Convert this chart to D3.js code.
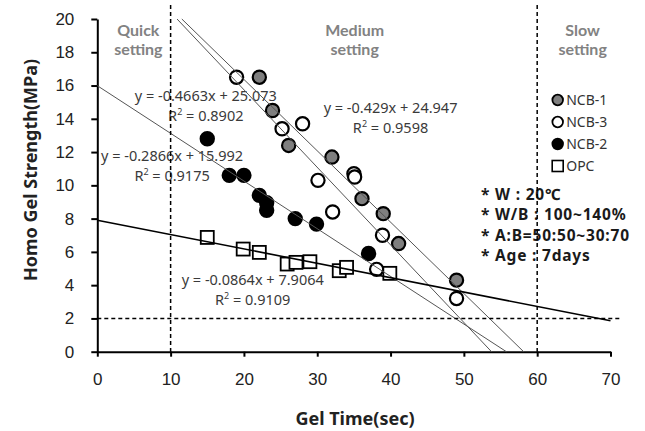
<!DOCTYPE html>
<html>
<head>
<meta charset="utf-8">
<script src="https://cdn.jsdelivr.net/npm/d3@7"></script>
<style>
  body { margin: 0; background: #fff; }
  svg { font-family: "Noto Sans", "DejaVu Sans", sans-serif; }
  .tick text { font-size: 17px; fill: #222; }
  .axis path, .axis line { stroke: #000; stroke-width: 2; }
  .eq { font-size: 14.5px; fill: #3a3a3a; }
  .zone { font-family: Lato, "Noto Sans", sans-serif; font-size: 16px; font-weight: bold; fill: #828282; }
  .note { font-size: 15.5px; font-weight: bold; fill: #1a1a1a; letter-spacing: 0.8px; }
  .legend text { font-size: 14px; fill: #333; }
  .axis-title { font-size: 18px; font-weight: bold; fill: #222; }
</style>
</head>
<body>
<div id="chart"></div>
<script>
// gel time (sec) / homo gel strength (MPa)
const ncb1Time = [22.1, 23.9, 26.1, 32.0, 36.1, 39.0, 41.1, 49.0];
const ncb1Strength = [16.5, 14.5, 12.4, 11.7, 9.2, 8.3, 6.5, 4.3];

const ncb3Time = [19.0, 25.2, 28.0, 30.1, 32.1, 35.0, 35.1, 38.9, 38.1, 49.0];
const ncb3Strength = [16.5, 13.4, 13.7, 10.3, 8.4, 10.7, 10.5, 7.0, 4.95, 3.2];

const ncb2Time = [15.0, 18.0, 20.0, 22.1, 23.1, 23.1, 27.0, 29.9, 37.0];
const ncb2Strength = [12.8, 10.6, 10.6, 9.4, 8.95, 8.5, 8.0, 7.67, 5.9];

const opcTime = [15.0, 19.9, 22.1, 25.9, 27.1, 29.0, 33.0, 34.0, 39.9];
const opcStrength = [6.87, 6.17, 5.97, 5.27, 5.37, 5.41, 4.87, 5.07, 4.71];

// trendlines: NCB-1, NCB-3, NCB-2, OPC
const seriesNames = ["NCB-1", "NCB-3", "NCB-2", "OPC"];
const slopes = [-0.429, -0.4663, -0.2866, -0.0864];
const intercepts = [24.947, 25.073, 15.992, 7.9064];
const slopeLabels = ["-0.429", "-0.4663", "-0.2866", "-0.0864"];
const interceptLabels = ["24.947", "25.073", "15.992", "7.9064"];
const r2Labels = ["0.9598", "0.8902", "0.9175", "0.9109"];

const timeTicks = [0, 10, 20, 30, 40, 50, 60, 70];
const strengthTicks = [0, 2, 4, 6, 8, 10, 12, 14, 16, 18, 20];
const zoneBounds = [10, 60];
const strengthLimit = 2;
const zoneLabels = [["Quick", "setting"], ["Medium", "setting"], ["Slow", "setting"]];
const zoneCenters = [5.6, 35.1, 66.2];
const notes = ["* W : 20\u2103", "* W/B : 100~140%", "* A:B=50:50~30:70", "* Age : 7days"];

const width = 645;
const height = 431;

const svg = d3
  .select("#chart")
  .append("svg")
  .attr("width", width)
  .attr("height", height);

const xScale = d3.scaleLinear().domain([0, 70]).range([97.3, 610.5]);
const yScale = d3.scaleLinear().domain([0, 20]).range([351.7, 19]);

const fills = { "NCB-1": "#7f7f7f", "NCB-3": "#fff", "NCB-2": "#000", OPC: "#fff" };

// axes
svg
  .append("g")
  .attr("class", "axis")
  .attr("transform", `translate(0, ${yScale(0)})`)
  .call(d3.axisBottom(xScale).tickValues(timeTicks).tickSize(5).tickSizeOuter(0).tickPadding(13))
  .call((g) => g.selectAll(".tick text").attr("dy", "0.9em"));

svg
  .append("g")
  .attr("class", "axis")
  .attr("transform", `translate(${xScale(0)}, 0)`)
  .call(d3.axisLeft(yScale).tickValues(strengthTicks).tickSize(6).tickSizeOuter(0).tickPadding(17));

svg.selectAll(".axis .domain").attr("stroke-width", 2);

svg
  .append("text")
  .attr("class", "axis-title")
  .attr("x", 355)
  .attr("y", 425)
  .attr("text-anchor", "middle")
  .text("Gel Time(sec)");

svg
  .append("text")
  .attr("class", "axis-title")
  .attr("transform", `translate(37, 170) rotate(-90)`)
  .attr("text-anchor", "middle")
  .text("Homo Gel Strength(MPa)");

// zone labels
zoneLabels.forEach((lines, i) => {
  lines.forEach((t, j) => {
    svg
      .append("text")
      .attr("class", "zone")
      .attr("x", xScale(zoneCenters[i]))
      .attr("y", 36 + j * 19.3)
      .attr("text-anchor", "middle")
      .text(t);
  });
});

// equation labels
const eqPos = [
  [40, 14.35],
  [14.8, 15.1],
  [10.2, 11.45],
  [21.2, 4.0],
];
seriesNames.forEach((name, i) => {
  const g = svg.append("g").attr("class", "eq");
  g.append("text")
    .attr("x", xScale(eqPos[i][0]))
    .attr("y", yScale(eqPos[i][1]))
    .attr("text-anchor", "middle")
    .text(`y = ${slopeLabels[i]}x + ${interceptLabels[i]}`);
  const r = g
    .append("text")
    .attr("x", xScale(eqPos[i][0]))
    .attr("y", yScale(eqPos[i][1]) + 20)
    .attr("text-anchor", "middle");
  r.append("tspan").text("R");
  r.append("tspan").attr("dy", -6).attr("font-size", "9px").text("2");
  r.append("tspan").attr("dy", 6).text(` = ${r2Labels[i]}`);
});

// notes
notes.forEach((t, i) => {
  svg
    .append("text")
    .attr("class", "note")
    .attr("x", 481)
    .attr("y", 200 + i * 20.3)
    .text(t);
});

// markers
const series = [
  { name: "NCB-1", x: ncb1Time, y: ncb1Strength },
  { name: "NCB-3", x: ncb3Time, y: ncb3Strength },
  { name: "NCB-2", x: ncb2Time, y: ncb2Strength },
  { name: "OPC", x: opcTime, y: opcStrength },
];

series.forEach((s) => {
  const pts = s.x.map((x, i) => ({ x, y: s.y[i] }));
  if (s.name === "OPC") {
    svg
      .append("g")
      .selectAll("rect")
      .data(pts)
      .enter()
      .append("rect")
      .attr("x", (d) => xScale(d.x) - 6.5)
      .attr("y", (d) => yScale(d.y) - 6.5)
      .attr("width", 13)
      .attr("height", 13)
      .attr("fill", "#fff")
      .attr("stroke", "#000")
      .attr("stroke-width", 1.8);
  } else {
    svg
      .append("g")
      .selectAll("circle")
      .data(pts)
      .enter()
      .append("circle")
      .attr("cx", (d) => xScale(d.x))
      .attr("cy", (d) => yScale(d.y))
      .attr("r", 6.6)
      .attr("fill", fills[s.name])
      .attr("stroke", "#000")
      .attr("stroke-width", 2.2);
  }
});

// trendlines, clipped to the 0..20 / 0..70 box
seriesNames.forEach((name, i) => {
  const m = slopes[i];
  const b = intercepts[i];
  const x0 = Math.max(0, (20 - b) / m);
  const x1 = Math.min(70, (0 - b) / m);
  svg
    .append("line")
    .attr("x1", xScale(x0))
    .attr("y1", yScale(m * x0 + b))
    .attr("x2", xScale(x1))
    .attr("y2", yScale(m * x1 + b))
    .attr("stroke", name === "OPC" ? "#000" : "#555")
    .attr("stroke-width", name === "OPC" ? 1.6 : 1);
});

// dashed guides
zoneBounds.forEach((v) => {
  svg
    .append("line")
    .attr("x1", xScale(v))
    .attr("x2", xScale(v))
    .attr("y1", yScale(20) - 14)
    .attr("y2", yScale(0))
    .attr("stroke", "#000")
    .attr("stroke-width", 1.5)
    .attr("stroke-dasharray", "4,3");
});

svg
  .append("line")
  .attr("x1", xScale(0))
  .attr("x2", xScale(71.5))
  .attr("y1", yScale(strengthLimit))
  .attr("y2", yScale(strengthLimit))
  .attr("stroke", "#000")
  .attr("stroke-width", 1.5)
  .attr("stroke-dasharray", "4,3");

// legend
const legend = svg.append("g").attr("class", "legend").attr("transform", "translate(557.7, 100)");
const legendItems = legend
  .selectAll(".legend-item")
  .data(seriesNames)
  .enter()
  .append("g")
  .attr("class", "legend-item")
  .attr("transform", (d, i) => `translate(0, ${i * 22})`);

legendItems.each(function (d) {
  const g = d3.select(this);
  if (d === "OPC") {
    g.append("rect")
      .attr("x", -5.5)
      .attr("y", -5.5)
      .attr("width", 11)
      .attr("height", 11)
      .attr("fill", "#fff")
      .attr("stroke", "#000")
      .attr("stroke-width", 1.6);
  } else {
    g.append("circle")
      .attr("r", 5.3)
      .attr("fill", fills[d])
      .attr("stroke", "#000")
      .attr("stroke-width", 1.8);
  }
});

legendItems
  .append("text")
  .attr("x", 8.5)
  .attr("y", 5)
  .text((d) => d);
</script>
</body>
</html>
